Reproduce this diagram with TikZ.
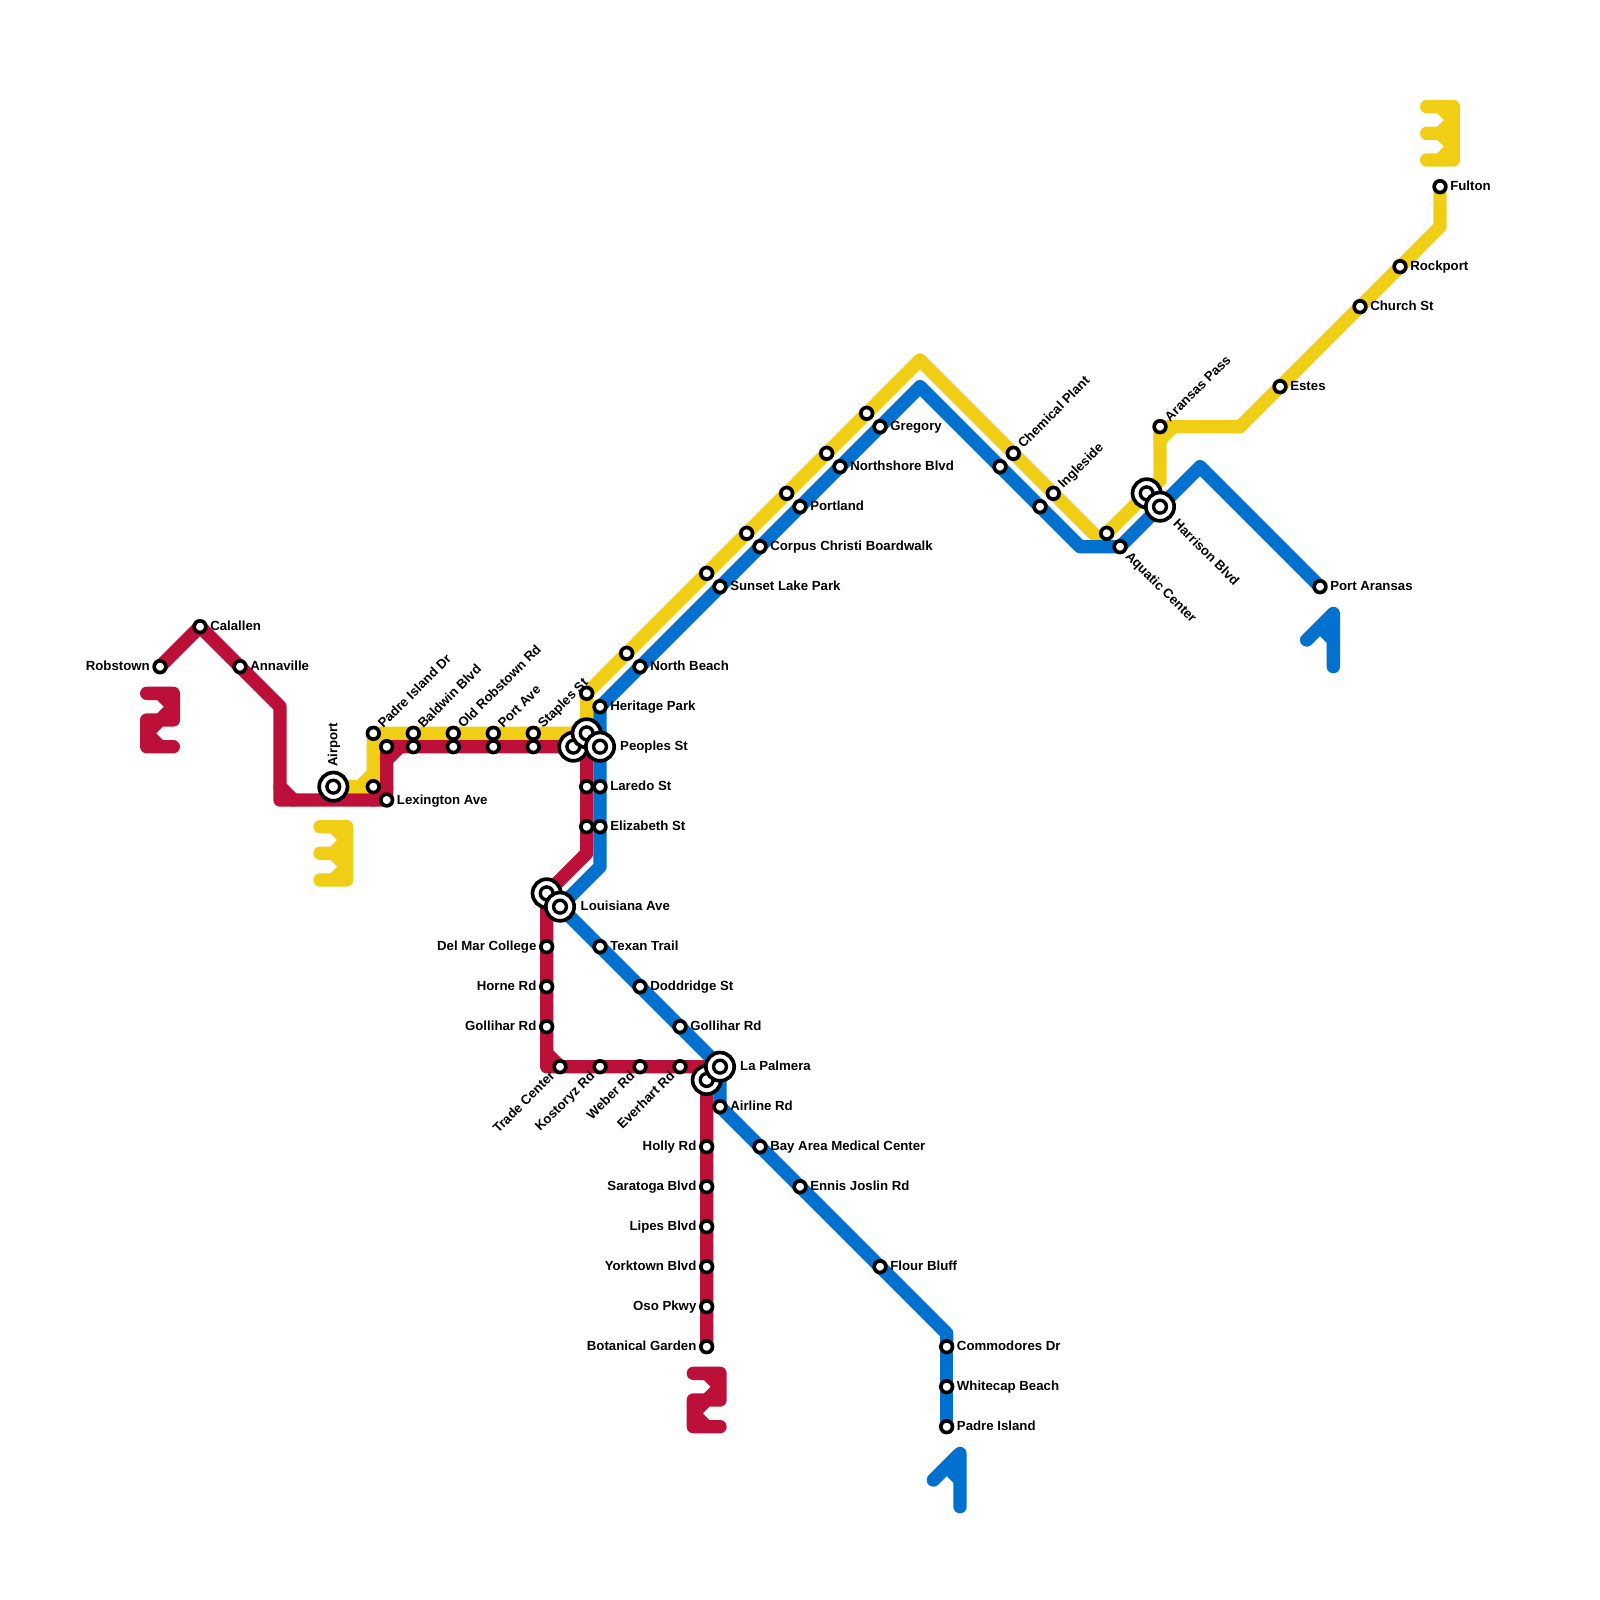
\documentclass[tikz,border=0pt]{standalone}
\usepackage{fontspec}
\setmainfont{Liberation Sans}
\usetikzlibrary{calc,backgrounds}
\definecolor{mred}{HTML}{BD1038}
\definecolor{myellow}{HTML}{F0CE15}
\definecolor{mblue}{HTML}{0071CE}
\tikzset{
  metro/.style={line width=1.333mm,line cap=round,line join=round},
  redline/.style={metro,draw=mred},
  yellowline/.style={metro,draw=myellow},
  blueline/.style={metro,draw=mblue},
  stn/.style={circle,draw=black,fill=white,line width=.367mm,inner sep=0pt,minimum size=1.17mm},
  hub/.style={circle,draw=black,fill=white,line width=.367mm,inner sep=0pt,minimum size=2.83mm,
    path picture={\draw[line width=.34mm] (path picture bounding box.center) circle (0.064cm);}},
  lbl/.style={inner sep=0pt,font=\fontsize{3.76}{4.4}\selectfont\bfseries,text=black},
}
% #1 station, #2 rotation, #3 distance (cm), #4 text: text runs away from the station
\newcommand{\labA}[4]{\node[lbl,rotate=#2,anchor=base west] (#1L) at ($(#1.center)+(#2:#3cm)+(#2-90:0.04cm)$) {#4};}
% text ends at the station
\newcommand{\labB}[4]{\node[lbl,rotate=#2,anchor=base east] (#1L) at ($(#1.center)+(#2+180:#3cm)+(#2-90:0.04cm)$) {#4};}
\begin{document}
\begin{tikzpicture}[x=0.01cm,y=-0.01cm]
\useasboundingbox (0,0) rectangle (1600,1600);
% ---------- red stations
\node[stn] (Robstown) at (160,666.67) {};
\node[stn] (Calallen) at (200,626.67) {};
\node[stn] (Annaville) at (240,666.67) {};
\node[stn] (Lexington) at (386.67,800) {};
\node[stn] (RedPadre) at (386.67,746.67) {};
\node[stn] (RedBaldwin) at (413.33,746.67) {};
\node[stn] (RedOld) at (453.33,746.67) {};
\node[stn] (RedPort) at (493.33,746.67) {};
\node[stn] (RedStaples) at (533.33,746.67) {};
\node[hub] (RedPeoples) at (573.33,746.67) {};
\node[stn] (RedLaredo) at (586.67,786.67) {};
\node[stn] (RedElizabeth) at (586.67,826.67) {};
\node[hub] (RedLouisiana) at (546.67,893.33) {};
\node[stn] (DelMar) at (546.67,946.67) {};
\node[stn] (Horne) at (546.67,986.67) {};
\node[stn] (GolliharW) at (546.67,1026.67) {};
\node[stn] (Trade) at (560,1066.67) {};
\node[stn] (Kostoryz) at (600,1066.67) {};
\node[stn] (Weber) at (640,1066.67) {};
\node[stn] (Everhart) at (680,1066.67) {};
\node[hub] (RedPalmera) at (706.67,1080) {};
\node[stn] (Holly) at (706.67,1146.67) {};
\node[stn] (Saratoga) at (706.67,1186.67) {};
\node[stn] (Lipes) at (706.67,1226.67) {};
\node[stn] (Yorktown) at (706.67,1266.67) {};
\node[stn] (Oso) at (706.67,1306.67) {};
\node[stn] (Botanical) at (706.67,1346.67) {};
% ---------- yellow stations
\node[hub] (Airport) at (333.33,786.67) {};
\node[stn] (YelLex) at (373.33,786.67) {};
\node[stn] (PadreIsland) at (373.33,733.33) {};
\node[stn] (Baldwin) at (413.33,733.33) {};
\node[stn] (OldRobstown) at (453.33,733.33) {};
\node[stn] (PortAve) at (493.33,733.33) {};
\node[stn] (Staples) at (533.33,733.33) {};
\node[hub] (YelPeoples) at (586.67,733.33) {};
\node[stn] (YelHeritage) at (586.67,693.33) {};
\node[stn] (YelNorth) at (626.67,653.33) {};
\node[stn] (YelSunset) at (706.67,573.33) {};
\node[stn] (YelCorpus) at (746.67,533.33) {};
\node[stn] (YelPortland) at (786.67,493.33) {};
\node[stn] (YelNorthshore) at (826.67,453.33) {};
\node[stn] (YelGregory) at (866.67,413.33) {};
\node[stn] (Chemical) at (1013.33,453.33) {};
\node[stn] (Ingleside) at (1053.33,493.33) {};
\node[stn] (YelAquatic) at (1106.67,533.33) {};
\node[hub] (YelHarrison) at (1146.67,493.33) {};
\node[stn] (Aransas) at (1160,426.67) {};
\node[stn] (Estes) at (1280,386.67) {};
\node[stn] (Church) at (1360,306.67) {};
\node[stn] (Rockport) at (1400,266.67) {};
\node[stn] (Fulton) at (1440,186.67) {};
% ---------- blue stations
\node[stn] (Heritage) at (600,706.67) {};
\node[hub] (Peoples) at (600,746.67) {};
\node[stn] (Laredo) at (600,786.67) {};
\node[stn] (Elizabeth) at (600,826.67) {};
\node[hub] (Louisiana) at (560,906.67) {};
\node[stn] (Texan) at (600,946.67) {};
\node[stn] (Doddridge) at (640,986.67) {};
\node[stn] (GolliharE) at (680,1026.67) {};
\node[hub] (Palmera) at (720,1066.67) {};
\node[stn] (Airline) at (720,1106.67) {};
\node[stn] (BayArea) at (760,1146.67) {};
\node[stn] (Ennis) at (800,1186.67) {};
\node[stn] (Flour) at (880,1266.67) {};
\node[stn] (Commodores) at (946.67,1346.67) {};
\node[stn] (Whitecap) at (946.67,1386.67) {};
\node[stn] (PadreIs) at (946.67,1426.67) {};
\node[stn] (North) at (640,666.67) {};
\node[stn] (Sunset) at (720,586.67) {};
\node[stn] (Corpus) at (760,546.67) {};
\node[stn] (Portland) at (800,506.67) {};
\node[stn] (Northshore) at (840,466.67) {};
\node[stn] (Gregory) at (880,426.67) {};
\node[stn] (BlueChem) at (1000,466.67) {};
\node[stn] (BlueIngle) at (1040,506.67) {};
\node[stn] (Aquatic) at (1120,546.67) {};
\node[hub] (Harrison) at (1160,506.67) {};
\node[stn] (PortAransas) at (1320,586.67) {};
% ---------- corners
\coordinate (r1) at (280,706.67);
\coordinate (r2) at (280,800);
\coordinate (r3) at (586.67,853.33);
\coordinate (r4) at (546.67,1066.67);
\coordinate (r5) at (706.67,1066.67);
\coordinate (r6) at (586.67,746.67);
\coordinate (y1) at (920,360);
\coordinate (y2) at (1100,540);
\coordinate (y3) at (1160,480);
\coordinate (y4) at (1240,426.67);
\coordinate (y5) at (1440,226.67);
\coordinate (b1) at (600,866.67);
\coordinate (b2) at (946.67,1333.33);
\coordinate (b3) at (920,386.67);
\coordinate (b4) at (1080,546.67);
\coordinate (b5) at (1200,466.67);
\begin{pgfonlayer}{background}
\fill[white] (0,0) rectangle (1600,1600);
% yellow line
\draw[yellowline] (Airport.center) -- (YelLex.center) -- (PadreIsland.center) -- (Baldwin.center) -- (OldRobstown.center) -- (PortAve.center) -- (Staples.center) -- (YelPeoples.center) -- (YelHeritage.center) -- (YelNorth.center) -- (YelSunset.center) -- (YelCorpus.center) -- (YelPortland.center) -- (YelNorthshore.center) -- (YelGregory.center) -- (y1) -- (Chemical.center) -- (Ingleside.center) -- (y2) -- (YelAquatic.center) -- (YelHarrison.center) -- (y3) -- (Aransas.center) -- (y4) -- (Estes.center) -- (Church.center) -- (Rockport.center) -- (y5) -- (Fulton.center);
\draw[yellowline] (360,786.67) -- (373.33,773.33) (373.33,746.67) -- (386.67,733.33) (573.33,733.33) -- (586.67,720) (1160,440) -- (1173.33,426.67);
% red line
\draw[redline] (Robstown.center) -- (Calallen.center) -- (Annaville.center) -- (r1) -- (r2) -- (Lexington.center) -- (RedPadre.center) -- (RedBaldwin.center) -- (RedOld.center) -- (RedPort.center) -- (RedStaples.center) -- (RedPeoples.center) -- (r6) -- (RedLaredo.center) -- (RedElizabeth.center) -- (r3) -- (RedLouisiana.center) -- (DelMar.center) -- (Horne.center) -- (GolliharW.center) -- (r4) -- (Trade.center) -- (Kostoryz.center) -- (Weber.center) -- (Everhart.center) -- (r5) -- (RedPalmera.center) -- (Holly.center) -- (Saratoga.center) -- (Lipes.center) -- (Yorktown.center) -- (Oso.center) -- (Botanical.center);
\draw[redline] (280,786.67) -- (293.33,800) (373.33,800) -- (386.67,786.67) (386.67,760) -- (400,746.67) (546.67,1053.33) -- (560,1066.67);
% blue line
\draw[blueline] (Commodores.center) -- (Whitecap.center) -- (PadreIs.center);
\draw[blueline] (Heritage.center) -- (Peoples.center) -- (Laredo.center) -- (Elizabeth.center) -- (b1) -- (Louisiana.center) -- (Texan.center) -- (Doddridge.center) -- (GolliharE.center) -- (Palmera.center) -- (Airline.center) -- (BayArea.center) -- (Ennis.center) -- (Flour.center) -- (b2) -- (Commodores.center);
\draw[blueline] (Heritage.center) -- (North.center) -- (Sunset.center) -- (Corpus.center) -- (Portland.center) -- (Northshore.center) -- (Gregory.center) -- (b3) -- (BlueChem.center) -- (BlueIngle.center) -- (b4) -- (Aquatic.center) -- (Harrison.center) -- (b5) -- (PortAransas.center);
% route numbers
\draw[redline] (146.67,693.33) -- (173.33,693.33) -- (173.33,720) -- (146.67,720) -- (146.67,746.67) -- (173.33,746.67)
  (160,693.33) -- (173.33,706.67) -- (160,720) -- (146.67,733.33) -- (160,746.67);
\draw[redline] (693.33,1373.33) -- (720,1373.33) -- (720,1400) -- (693.33,1400) -- (693.33,1426.67) -- (720,1426.67)
  (706.67,1373.33) -- (720,1386.67) -- (706.67,1400) -- (693.33,1413.33) -- (706.67,1426.67);
\draw[yellowline] (320,826.67) -- (346.67,826.67) -- (346.67,880) -- (320,880) (320,853.33) -- (346.67,853.33)
  (333.33,826.67) -- (346.67,840) -- (333.33,853.33) -- (346.67,866.67) -- (333.33,880);
\draw[yellowline] (1426.67,106.67) -- (1453.33,106.67) -- (1453.33,160) -- (1426.67,160) (1426.67,133.33) -- (1453.33,133.33)
  (1440,106.67) -- (1453.33,120) -- (1440,133.33) -- (1453.33,146.67) -- (1440,160);
\draw[blueline] (933.33,1480) -- (960,1453.33) -- (960,1506.67) (946.67,1466.67) -- (960,1480);
\draw[blueline] (1306.67,640) -- (1333.33,613.33) -- (1333.33,666.67) (1320,626.67) -- (1333.33,640);
\end{pgfonlayer}
% ---------- labels, right
\labA{Calallen}{0}{0.096}{Calallen}
\labA{Annaville}{0}{0.096}{Annaville}
\labA{Lexington}{0}{0.096}{Lexington Ave}
\labA{Heritage}{0}{0.096}{Heritage Park}
\labA{Laredo}{0}{0.096}{Laredo St}
\labA{Elizabeth}{0}{0.096}{Elizabeth St}
\labA{North}{0}{0.096}{North Beach}
\labA{Sunset}{0}{0.096}{Sunset Lake Park}
\labA{Corpus}{0}{0.096}{Corpus Christi Boardwalk}
\labA{Portland}{0}{0.096}{Portland}
\labA{Northshore}{0}{0.096}{Northshore Blvd}
\labA{Gregory}{0}{0.096}{Gregory}
\labA{PortAransas}{0}{0.096}{Port Aransas}
\labA{Estes}{0}{0.096}{Estes}
\labA{Church}{0}{0.096}{Church St}
\labA{Rockport}{0}{0.096}{Rockport}
\labA{Fulton}{0}{0.096}{Fulton}
\labA{Texan}{0}{0.096}{Texan Trail}
\labA{Doddridge}{0}{0.096}{Doddridge St}
\labA{GolliharE}{0}{0.096}{Gollihar Rd}
\labA{Airline}{0}{0.096}{Airline Rd}
\labA{BayArea}{0}{0.096}{Bay Area Medical Center}
\labA{Ennis}{0}{0.096}{Ennis Joslin Rd}
\labA{Flour}{0}{0.096}{Flour Bluff}
\labA{Commodores}{0}{0.096}{Commodores Dr}
\labA{Whitecap}{0}{0.096}{Whitecap Beach}
\labA{PadreIs}{0}{0.096}{Padre Island}
\labA{Peoples}{0}{0.195}{Peoples St}
\labA{Louisiana}{0}{0.2}{Louisiana Ave}
\labA{Palmera}{0}{0.195}{La Palmera}
% labels, left
\labB{Robstown}{0}{0.096}{Robstown}
\labB{DelMar}{0}{0.096}{Del Mar College}
\labB{Horne}{0}{0.096}{Horne Rd}
\labB{GolliharW}{0}{0.096}{Gollihar Rd}
\labB{Holly}{0}{0.096}{Holly Rd}
\labB{Saratoga}{0}{0.096}{Saratoga Blvd}
\labB{Lipes}{0}{0.096}{Lipes Blvd}
\labB{Yorktown}{0}{0.096}{Yorktown Blvd}
\labB{Oso}{0}{0.096}{Oso Pkwy}
\labB{Botanical}{0}{0.096}{Botanical Garden}
% labels, slanted
\labA{PadreIsland}{45}{0.096}{Padre Island Dr}
\labA{Baldwin}{45}{0.096}{Baldwin Blvd}
\labA{OldRobstown}{45}{0.096}{Old Robstown Rd}
\labA{PortAve}{45}{0.096}{Port Ave}
\labA{Staples}{45}{0.096}{Staples St}
\labA{Chemical}{45}{0.096}{Chemical Plant}
\labA{Ingleside}{45}{0.096}{Ingleside}
\labA{Aransas}{45}{0.096}{Aransas Pass}
\labA{Airport}{90}{0.19}{Airport}
\labA{Aquatic}{-45}{0.1}{Aquatic Center}
\labA{Harrison}{-45}{0.21}{Harrison Blvd}
\labB{Trade}{45}{0.096}{Trade Center}
\labB{Kostoryz}{45}{0.096}{Kostoryz Rd}
\labB{Weber}{45}{0.096}{Weber Rd}
\labB{Everhart}{45}{0.096}{Everhart Rd}
\end{tikzpicture}
\end{document}
